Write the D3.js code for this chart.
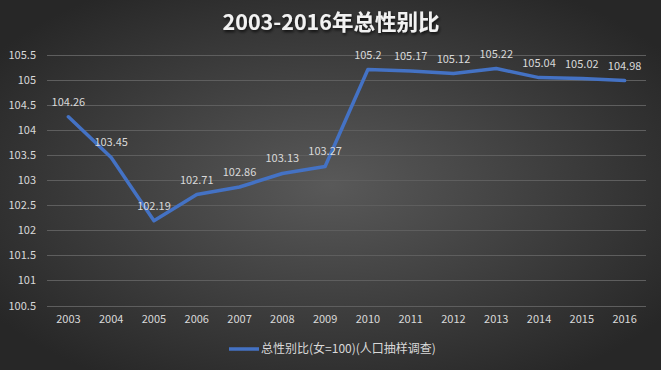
<!DOCTYPE html>
<html><head><meta charset="utf-8">
<script src="https://cdn.jsdelivr.net/npm/d3@7/dist/d3.min.js"></script>
<style>html,body{margin:0;padding:0;background:#333;}svg{display:block;}</style>
</head><body>
<svg id="c" width="661" height="370"></svg>
<script>
const years = ["2003","2004","2005","2006","2007","2008","2009","2010","2011","2012","2013","2014","2015","2016"];
const values = [104.26,103.45,102.19,102.71,102.86,103.13,103.27,105.2,105.17,105.12,105.22,105.04,105.02,104.98];
const yTicks = [100.5,101,101.5,102,102.5,103,103.5,104,104.5,105,105.5];
const title = "2003-2016年总性别比";
const seriesName = "总性别比(女=100)(人口抽样调查)";

const W = 661, H = 370;
const svg = d3.select("#c");
const font = "'Noto Sans CJK SC','Open Sans','DejaVu Sans',sans-serif";

const defs = svg.append("defs");
const rg = defs.append("radialGradient").attr("id","bg").attr("cx","50%").attr("cy","50%").attr("r","62%");
rg.append("stop").attr("offset","0%").attr("stop-color","#595959");
rg.append("stop").attr("offset","100%").attr("stop-color","#272727");
const f = defs.append("filter").attr("id","sh").attr("x","-10%").attr("y","-30%").attr("width","120%").attr("height","160%");
f.append("feDropShadow").attr("dx",1).attr("dy",2).attr("stdDeviation",1.5).attr("flood-color","#000").attr("flood-opacity",0.7);

svg.append("rect").attr("width",W).attr("height",H).attr("fill","url(#bg)");

const x = d3.scaleBand().domain(years).range([47,646]);
const y = d3.scaleLinear().domain([100.5,105.5]).range([305.5,54.5]);

// gridlines
svg.append("g").selectAll("line").data(yTicks).join("line")
  .attr("x1",47).attr("x2",646)
  .attr("y1",d=>Math.round(y(d))+0.5).attr("y2",d=>Math.round(y(d))+0.5)
  .attr("stroke","#5e5e5e").attr("stroke-width",1);

// y axis labels
const yAxis = d3.axisLeft(y).tickValues(yTicks).tickSize(0).tickPadding(0).tickFormat(d=>String(d));
const gy = svg.append("g").attr("transform","translate(36,0)").call(yAxis);
gy.select(".domain").remove();
gy.selectAll("text").attr("fill","#d9d9d9").style("font-size","11px").style("font-family",font);

// x axis labels
const xAxis = d3.axisBottom(x).tickSize(0).tickPadding(0);
const gx = svg.append("g").attr("transform","translate(0,315)").call(xAxis);
gx.select(".domain").remove();
gx.selectAll("text").attr("fill","#d9d9d9").style("font-size","11px").style("font-family",font);

// line
const cx = d=>x(d)+x.bandwidth()/2;
const line = d3.line().x((d,i)=>cx(years[i])).y(d=>y(d));
svg.append("path").datum(values).attr("d",line).attr("fill","none")
  .attr("stroke","#4472c4").attr("stroke-width",3.5).attr("stroke-linejoin","round").attr("stroke-linecap","round");

// data labels
svg.append("g").selectAll("text").data(values).join("text")
  .attr("x",(d,i)=>cx(years[i])).attr("y",d=>y(d)-11)
  .attr("text-anchor","middle").attr("fill","#d9d9d9")
  .style("font-size","11px").style("font-family",font)
  .text(d=>String(d));

// title
svg.append("text").attr("x",331).attr("y",30).attr("text-anchor","middle")
  .attr("fill","#f2f2f2").style("font-size","21.5px").style("font-weight","bold").style("font-family",font)
  .attr("filter","url(#sh)").text(title);

// legend
svg.append("line").attr("x1",229).attr("x2",259).attr("y1",349).attr("y2",349)
  .attr("stroke","#4472c4").attr("stroke-width",3.5);
svg.append("text").attr("x",261).attr("y",353).attr("fill","#d9d9d9")
  .style("font-size","12px").style("font-family",font).text(seriesName);
</script>
</body></html>
